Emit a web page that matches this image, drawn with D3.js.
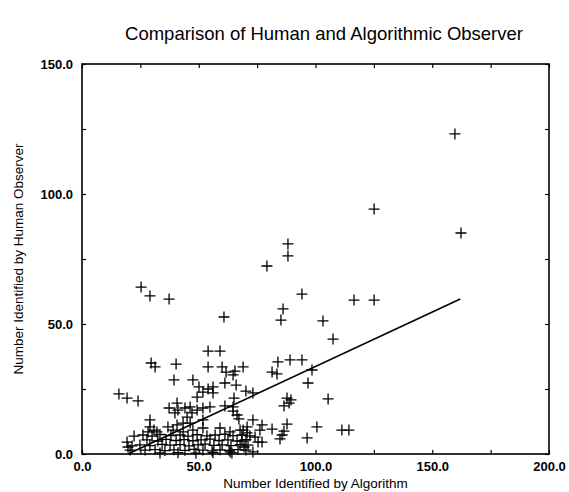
<!DOCTYPE html>
<html><head><meta charset="utf-8">
<script src="https://cdn.jsdelivr.net/npm/d3@7"></script>
<style>body{margin:0;background:#fff}svg{display:block}</style>
</head><body>
<svg id="c" width="569" height="492"></svg>
<script>
const chartTitle = "Comparison of Human and Algorithmic Observer";
const xTitle = "Number Identified by Algorithm";
const yTitle = "Number Identified by Human Observer";
const xDomain = [0, 200];
const yDomain = [0, 150];
const xMajorTicks = [0, 50, 100, 150, 200];
const yMajorTicks = [0, 50, 100, 150];
const xMinorTicks = [25, 75, 125, 175];
const yMinorTicks = [25, 75, 125];

const algorithm = [
159.7,162.3,125.1,125.1,116.5,88.2,88.2,79.2,94.2,86.1,
85.2,103.2,107.5,83.9,89.1,94.2,98.5,81.4,83.5,25.3,
29.1,37.3,60.8,54.0,59.1,29.6,31.3,40.3,54.0,60.0,
61.7,65.5,64.7,69.0,39.4,47.5,15.8,19.3,24.0,37.3,
40.7,41.1,44.1,47.1,49.3,51.8,54.8,50.1,51.8,56.1,
56.1,49.3,54.0,61.2,66.0,70.2,73.2,65.1,61.2,64.7,
66.4,67.2,96.8,87.8,89.5,88.7,86.5,105.4,73.2,77.1,
81.4,76.2,87.8,86.5,85.7,84.8,96.4,100.6,111.3,114.3,
69.0,70.7,74.1,75.4,77.1,73.2,63.4,29.1,29.1,28.3,
30.8,32.1,36.8,40.7,43.3,46.3,51.8,39.0,43.3,47.5,
51.8,59.1,63.4,67.7,70.7,39.8,45.0,46.3,64.7,22.3,
19.3,19.7,20.6,21.4,68.5,69.4,
26.1,30.0,33.4,38.1,42.0,45.4,49.3,53.5,57.0,61.2,64.7,68.5,71.9,
27.8,32.5,36.0,40.3,43.7,47.5,51.0,54.8,58.7,62.5,66.4,70.2,
24.8,29.1,34.3,37.7,42.0,45.8,49.7,52.7,56.5,60.0,63.8,67.7,71.1,
27.0,31.3,35.5,39.4,44.1,48.0,51.8,55.7,59.1,63.0,66.8,70.2,
33.4,41.1,48.8,56.1,64.2
];
const human = [
123.1,85.0,94.2,59.2,59.2,80.8,76.2,72.3,61.5,55.8,
51.5,51.2,44.2,35.4,36.2,36.2,32.3,31.5,30.8,64.2,
60.8,59.6,52.7,39.6,39.6,35.0,33.5,34.6,33.5,33.5,
31.5,31.9,30.4,33.5,28.5,28.5,23.1,21.5,20.4,17.7,
19.6,16.9,17.7,15.8,16.9,17.7,18.1,25.8,23.8,25.8,
23.5,21.9,25.0,27.3,26.5,24.2,23.5,21.5,18.5,16.5,
15.0,13.5,27.3,21.5,20.8,19.6,18.5,21.2,13.1,11.2,
9.6,9.2,11.5,8.8,7.3,5.8,6.2,10.4,9.2,9.2,
9.2,8.1,6.5,4.6,4.6,0.8,0.8,13.1,10.4,8.5,
9.2,8.5,10.4,11.2,11.9,11.9,13.1,9.2,8.5,9.2,
10.0,10.0,8.5,9.2,10.4,15.8,14.2,18.1,18.1,6.9,
4.6,2.7,1.5,3.1,5.0,2.7,
7.3,6.9,7.5,7.1,7.3,6.9,7.4,7.0,7.3,7.6,7.1,7.3,7.0,
5.4,5.0,5.6,5.2,5.5,5.1,5.4,5.7,5.2,5.4,5.0,5.5,
3.5,3.2,3.7,3.4,3.6,3.1,3.5,3.8,3.3,3.5,3.2,3.6,3.4,
1.5,1.7,1.3,1.6,1.4,1.8,1.5,1.2,1.6,1.4,1.7,1.5,
0.4,0.5,0.3,0.5,0.4
];

// fitted line: human = slope * algorithm + intercept, over the algorithm range
const fitSlope = 0.419;
const fitIntercept = -8.25;
const fitRange = [19.7, 162.0];

const FONT = "'Liberation Sans', Arial, Helvetica, sans-serif";
const m = {left: 82, right: 20, top: 64, bottom: 38};
const W = 569, H = 492;
const svg = d3.select("#c");
const g = svg.append("g").attr("transform", `translate(${m.left},${m.top})`);
const iw = W - m.left - m.right, ih = H - m.top - m.bottom;

const x = d3.scaleLinear().domain(xDomain).range([0, iw]);
const y = d3.scaleLinear().domain(yDomain).range([ih, 0]);
const fmt = d3.format(".1f");
const xAll = xMajorTicks.concat(xMinorTicks).sort(d3.ascending);
const yAll = yMajorTicks.concat(yMinorTicks).sort(d3.ascending);
const isMajX = d => xMajorTicks.includes(d);
const isMajY = d => yMajorTicks.includes(d);

function style(sel){
  sel.select(".domain").remove();
  sel.selectAll("line").attr("stroke", "#000").attr("stroke-width", 1.2);
  sel.selectAll("text").attr("font-family", FONT).attr("font-size", 13)
     .attr("font-weight", "bold").attr("fill", "#000");
}

g.append("g").attr("transform", `translate(0,${ih})`)
  .call(d3.axisBottom(x).tickValues(xAll).tickSize(-4).tickPadding(8)
        .tickFormat(d => isMajX(d) ? fmt(d) : "")).call(style);
g.append("g")
  .call(d3.axisLeft(y).tickValues(yAll).tickSize(-4).tickPadding(9)
        .tickFormat(d => isMajY(d) ? fmt(d) : "")).call(style);
g.append("g")
  .call(d3.axisTop(x).tickValues(xAll).tickSize(-4).tickFormat("")).call(style);
g.append("g").attr("transform", `translate(${iw},0)`)
  .call(d3.axisRight(y).tickValues(yAll).tickSize(-4).tickFormat("")).call(style);

g.append("rect").attr("x", 0).attr("y", 0).attr("width", iw).attr("height", ih)
  .attr("fill", "none").attr("stroke", "#000").attr("stroke-width", 1.6);

// regression line
const fitPts = fitRange.map(a => [a, fitSlope * a + fitIntercept]);
g.append("path").datum(fitPts)
  .attr("d", d3.line().x(d => x(d[0])).y(d => y(d[1])))
  .attr("fill", "none").attr("stroke", "#000").attr("stroke-width", 1.6);

// points
const pts = algorithm.map((a, i) => [a, human[i]]);
g.append("g").selectAll("path").data(pts).join("path")
  .attr("transform", d => `translate(${x(d[0])},${y(d[1])})`)
  .attr("d", "M-5.5,0H5.5M0,-5.5V5.5")
  .attr("stroke", "#000").attr("stroke-width", 1.3).attr("fill", "none");

svg.append("text").attr("x", 324).attr("y", 40).attr("text-anchor", "middle")
  .attr("font-family", FONT).attr("font-size", 18.5).attr("fill", "#000").text(chartTitle);
svg.append("text").attr("x", m.left + iw / 2).attr("y", 488).attr("text-anchor", "middle")
  .attr("font-family", FONT).attr("font-size", 13.5).attr("fill", "#000").text(xTitle);
svg.append("text").attr("transform", `translate(23,${m.top + ih / 2}) rotate(-90)`)
  .attr("text-anchor", "middle")
  .attr("font-family", FONT).attr("font-size", 13.5).attr("fill", "#000").text(yTitle);
</script>
</body></html>
